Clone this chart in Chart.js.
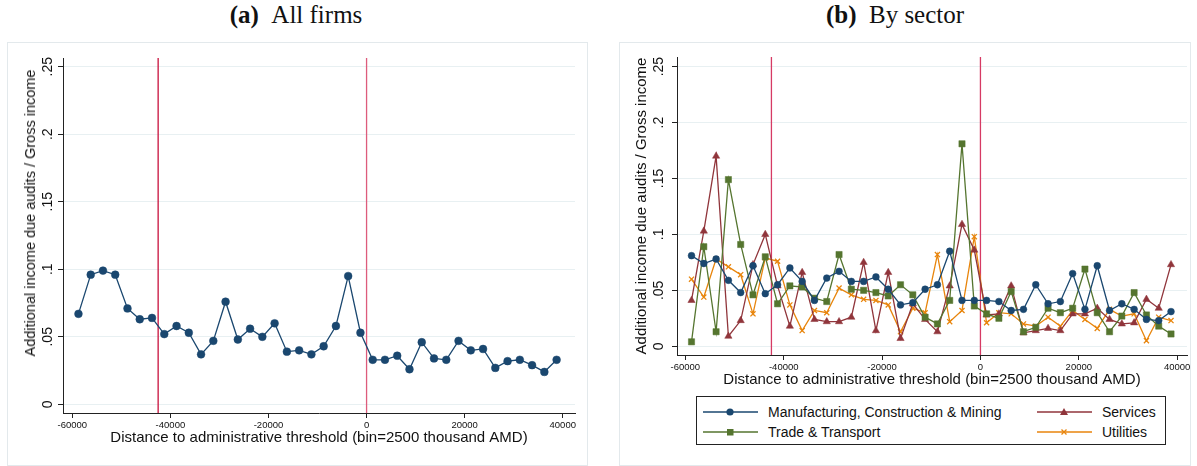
<!DOCTYPE html>
<html>
<head>
<meta charset="utf-8">
<script src="https://cdn.jsdelivr.net/npm/chart.js@4.4.1/dist/chart.umd.min.js"></script>
<style>
  body { margin:0; background:#fff; width:1197px; height:466px; position:relative; overflow:hidden; font-family:"Liberation Sans", Arial, sans-serif; }
  .panel { position:absolute; border:1px solid #e3e9ec; box-sizing:border-box; }
  .title { position:absolute; top:2px; font-family:"Liberation Serif", serif; font-size:25px; line-height:25px; color:#111; white-space:nowrap; transform:translateX(-50%); }
  .ytitle { position:absolute; font-size:14.5px; line-height:16px; color:#111; white-space:nowrap; transform:translate(-50%, -50%) rotate(-90deg); }
  canvas { position:absolute; }
  #legend { position:absolute; left:696px; top:396px; width:470px; height:49px; border:1px solid #222; box-sizing:border-box; }
  .item { position:absolute; height:20px; display:flex; align-items:center; font-size:14px; color:#111; white-space:nowrap; }
  .item svg { margin-right:10px; }
</style>
</head>
<body>
<div class="panel" style="left:7px;top:42px;width:581px;height:424px"></div>
<div class="panel" style="left:619px;top:42px;width:572px;height:424px"></div>
<div class="title" style="left:296px"><b>(a)</b>&ensp;All firms</div>
<div class="title" style="left:895px"><b>(b)</b>&ensp;By sector</div>
<canvas id="allChart" width="579" height="423" style="left:8px;top:42px"></canvas>
<canvas id="sectorChart" width="575" height="351" style="left:619px;top:42px"></canvas>
<div id="allYTitle" class="ytitle" style="left:30px;top:213px"></div>
<div id="legend"></div>

<script>
// bin centres (bin = 2500 thousand AMD)
const binCenters = [-58750, -56250, -53750, -51250, -48750, -46250, -43750, -41250, -38750, -36250,
                    -33750, -31250, -28750, -26250, -23750, -21250, -18750, -16250, -13750, -11250,
                    -8750, -6250, -3750, -1250, 1250, 3750, 6250, 8750, 11250, 13750,
                    16250, 18750, 21250, 23750, 26250, 28750, 31250, 33750, 36250, 38750];

const allFirms = [0.067, 0.096, 0.099, 0.096, 0.071, 0.063, 0.064, 0.052, 0.058, 0.053,
                  0.037, 0.047, 0.076, 0.048, 0.056, 0.050, 0.060, 0.039, 0.040, 0.037,
                  0.043, 0.058, 0.095, 0.053, 0.033, 0.033, 0.036, 0.026, 0.046, 0.034,
                  0.033, 0.047, 0.040, 0.041, 0.027, 0.032, 0.033, 0.029, 0.024, 0.033];

const manufacturing = [0.081, 0.074, 0.078, 0.059, 0.048, 0.072, 0.047, 0.055, 0.070, 0.058,
                       0.041, 0.061, 0.067, 0.058, 0.058, 0.062, 0.051, 0.037, 0.039, 0.051,
                       0.055, 0.085, 0.041, 0.041, 0.041, 0.040, 0.032, 0.033, 0.055, 0.038,
                       0.040, 0.065, 0.033, 0.072, 0.032, 0.038, 0.033, 0.024, 0.023, 0.031];

const services = [0.041, 0.103, 0.170, 0.009, 0.023, 0.073, 0.100, 0.054, 0.018, 0.066,
                  0.024, 0.022, 0.022, 0.026, 0.075, 0.014, 0.066, 0.007, 0.038, 0.024,
                  0.013, 0.054, 0.109, 0.086, 0.028, 0.029, 0.054, 0.012, 0.014, 0.016,
                  0.014, 0.029, 0.029, 0.034, 0.024, 0.020, 0.021, 0.042, 0.034, 0.073];

const tradeTransport = [0.004, 0.089, 0.013, 0.149, 0.091, 0.046, 0.080, 0.038, 0.054, 0.053,
                        0.043, 0.040, 0.082, 0.051, 0.050, 0.048, 0.045, 0.055, 0.046, 0.026,
                        0.020, 0.041, 0.181, 0.036, 0.029, 0.025, 0.049, 0.013, 0.017, 0.034,
                        0.030, 0.034, 0.069, 0.030, 0.013, 0.027, 0.048, 0.028, 0.018, 0.011];

const utilities = [0.060, 0.044, 0.078, 0.071, 0.064, 0.029, 0.079, 0.076, 0.037, 0.014,
                   0.032, 0.030, 0.052, 0.046, 0.042, 0.041, 0.037, 0.013, 0.034, 0.030,
                   0.082, 0.022, 0.032, 0.098, 0.021, 0.030, 0.029, 0.020, 0.018, 0.026,
                   0.018, 0.032, 0.024, 0.016, 0.033, 0.027, 0.029, 0.005, 0.026, 0.023];

const xTicks = [-60000, -40000, -20000, 0, 20000, 40000];
const yTicks = [0, 0.05, 0.1, 0.15, 0.2, 0.25];
const thresholds = [-42500, 0];

const xTitle = "Distance to administrative threshold (bin=2500 thousand AMD)";
const yTitle = "Additional income due audits / Gross income";

const NAVY = "#1a476f", MAROON = "#90353b", GREEN = "#55752f", ORANGE = "#e8850c";

Chart.defaults.font.family = '"Liberation Sans", Arial, sans-serif';
Chart.defaults.color = "#111";

function points(values) {
    return values.map((v, i) => ({ x: binCenters[i], y: v }));
}

function series(label, values, color, style, radius) {
    return {
        label: label,
        data: points(values),
        borderColor: color,
        backgroundColor: color,
        borderWidth: 1.3,
        pointStyle: style,
        pointRadius: radius,
        pointBorderWidth: style === "crossRot" ? 1.3 : 0.5,
        pointBorderColor: color,
        pointBackgroundColor: color,
        tension: 0,
        order: 1
    };
}

function vline(x, color, g) {
    return {
        data: [{ x: x, y: g.yMin }, { x: x, y: g.yMax }],
        borderColor: color,
        borderWidth: 1.3,
        pointRadius: 0,
        order: 10
    };
}

function yLabel(v) {
    return v === 0 ? "0" : String(v).replace(/^0/, "");
}

function makeChart(id, datasets, g) {
    return new Chart(document.getElementById(id), {
        type: "line",
        data: { datasets: datasets },
        options: {
            responsive: false,
            animation: false,
            layout: { padding: { left: 0, top: g.padTop, right: g.padRight, bottom: 0 } },
            plugins: { legend: { display: false }, tooltip: { enabled: false } },
            scales: {
                x: {
                    type: "linear",
                    min: g.xMin,
                    max: g.xMax,
                    afterBuildTicks: s => { s.ticks = xTicks.map(v => ({ value: v })); },
                    afterFit: s => { s.height = g.xAxisH; },
                    grid: { drawOnChartArea: false, drawTicks: true, tickLength: 5, tickColor: "#222" },
                    border: { display: true, color: "#222", width: 1 },
                    ticks: { callback: v => String(v), font: { size: 9.5 }, color: "#111", padding: 2,
                             maxRotation: 0, autoSkip: false },
                    title: { display: true, text: xTitle, font: { size: 15 }, color: "#111",
                             padding: { top: 0, bottom: g.xTitlePad } }
                },
                y: {
                    min: g.yMin,
                    max: g.yMax,
                    afterBuildTicks: s => { s.ticks = yTicks.map(v => ({ value: v })); },
                    afterFit: s => { s.width = g.yAxisW; },
                    grid: { color: "#e8f0f2", lineWidth: 1, drawTicks: true, tickLength: 5, tickColor: "#222" },
                    border: { display: true, color: "#222", width: 1 },
                    ticks: { callback: yLabel, font: { size: 14 }, color: "#111", padding: g.yTickPad,
                             minRotation: 90, maxRotation: 90, crossAlign: "center", autoSkip: false },
                    title: { display: g.yTitleOnAxis, text: yTitle, font: { size: 15 }, color: "#111",
                             padding: { top: g.yTitlePad, bottom: 0 } }
                }
            }
        }
    });
}

/* panel (a) */
const geoAll = { xMin: -61900, xMax: 42500, yMin: -0.0064, yMax: 0.2564,
                 padTop: 16, padRight: 12, xAxisH: 52, yAxisW: 55,
                 xTitlePad: 18, yTitlePad: 13, yTickPad: 0, yTitleOnAxis: false };

makeChart("allChart", [
    series("All firms", allFirms, NAVY, "circle", 3.9),
    vline(thresholds[0], "#c8103c", geoAll),
    vline(thresholds[1], "#dd5c7c", geoAll)
], geoAll);

// in panel (a) the y title sits a little above the axis centre
document.getElementById("allYTitle").textContent = yTitle;

/* panel (b) */
const geoSector = { xMin: -61700, xMax: 42000, yMin: -0.0078, yMax: 0.2586,
                    padTop: 15, padRight: 7, xAxisH: 38, yAxisW: 58,
                    xTitlePad: 4, yTitlePad: 14, yTickPad: 3, yTitleOnAxis: true };

const sectors = [
    { name: "Manufacturing, Construction & Mining", values: manufacturing, color: NAVY, style: "circle", r: 3.4 },
    { name: "Trade & Transport", values: tradeTransport, color: GREEN, style: "rect", r: 4.4 },
    { name: "Services", values: services, color: MAROON, style: "triangle", r: 4.2 },
    { name: "Utilities", values: utilities, color: ORANGE, style: "crossRot", r: 3.6 }
];

makeChart("sectorChart", [
    ...sectors.map(s => series(s.name, s.values, s.color, s.style, s.r)),
    vline(thresholds[0], "#d63a64", geoSector),
    vline(thresholds[1], "#d63a64", geoSector)
], geoSector);

/* legend */
function marker(s) {
    const c = s.color;
    if (s.style === "circle") return `<circle cx="27" cy="6" r="3.6" fill="${c}"/>`;
    if (s.style === "rect") return `<rect x="24" y="3" width="6.5" height="6.5" fill="${c}"/>`;
    if (s.style === "triangle") return `<polygon points="27,2 31,9 23,9" fill="${c}"/>`;
    return `<path d="M24.5 3.5 L29.5 8.5 M24.5 8.5 L29.5 3.5" stroke="${c}" stroke-width="1.3"/>`;
}

const legendPos = [
    { left: 6, top: 5 },    // Manufacturing
    { left: 6, top: 25 },   // Trade & Transport
    { left: 340, top: 5 },  // Services
    { left: 340, top: 25 }  // Utilities
];

const legend = document.getElementById("legend");
sectors.forEach((s, i) => {
    const el = document.createElement("div");
    el.className = "item";
    el.style.left = legendPos[i].left + "px";
    el.style.top = legendPos[i].top + "px";
    el.innerHTML = `<svg width="55" height="12"><line x1="0" y1="6" x2="55" y2="6" stroke="${s.color}" stroke-width="1.6"/>${marker(s)}</svg><span>${s.name.replace("&", "&amp;")}</span>`;
    legend.appendChild(el);
});
</script>
</body>
</html>
